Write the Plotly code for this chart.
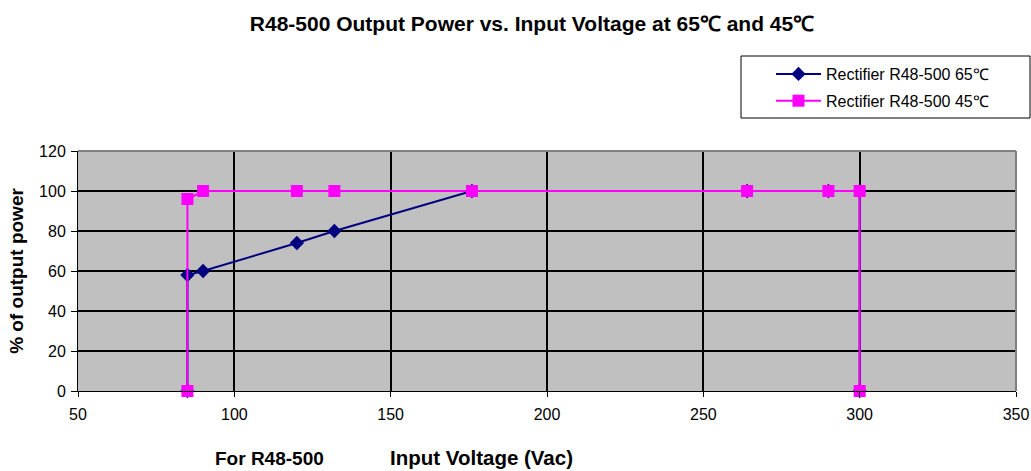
import plotly.graph_objects as go

# Data
v65 = [85, 85, 90, 120, 132, 176, 264, 290, 300, 300]
p65 = [0, 58, 60, 74, 80, 100, 100, 100, 100, 0]
v45 = [85, 85, 90, 120, 132, 176, 264, 290, 300, 300]
p45 = [0, 96, 100, 100, 100, 100, 100, 100, 100, 0]
name65 = "Rectifier R48-500 65℃"
name45 = "Rectifier R48-500 45℃"
title = "R48-500 Output Power vs. Input Voltage at 65℃ and 45℃"
x_title = "Input Voltage (Vac)"
note = "For R48-500"
y_title = "% of output power"
x_ticks = [50, 100, 150, 200, 250, 300, 350]
y_ticks = [0, 20, 40, 60, 80, 100, 120]

font = "Liberation Sans, Arial, sans-serif"

# plot area in pixels
L, R, T, B = 78, 1016, 151, 391
W, H = R - L, B - T


def px(x):
    return (x - L) / W


def py(y):
    return (B - y) / H


fig = go.Figure()
fig.add_trace(go.Scatter(
    x=v65, y=p65, name=name65, mode="lines+markers", legendgroup="a",
    line=dict(color="#000080", width=2), cliponaxis=False,
    marker=dict(symbol="diamond", size=11, color="#000080"),
))
fig.add_trace(go.Scatter(
    x=v45, y=p45, name=name45, mode="lines+markers", legendgroup="b",
    line=dict(color="#FF00FF", width=2), cliponaxis=False,
    marker=dict(symbol="square", size=12, color="#FF00FF"),
))

fig.update_layout(
    width=1031, height=471,
    margin=dict(l=L, r=1031 - R, t=T, b=471 - B),
    paper_bgcolor="white", plot_bgcolor="#C0C0C0",
    font=dict(family=font, size=16, color="black"),
    title=dict(text="<b>" + title + "</b>", x=532 / 1031, xanchor="center",
               xref="container", y=1 - 24 / 471, yanchor="middle",
               font=dict(size=21)),
    legend=dict(x=px(771), y=py(57), xanchor="left", yanchor="top",
                borderwidth=0, bgcolor="rgba(0,0,0,0)",
                font=dict(size=16), itemwidth=45, tracegroupgap=3,
                traceorder="grouped"),
    showlegend=True,
)
fig.update_xaxes(
    range=[50, 350], tickvals=x_ticks, ticks="outside", ticklen=5,
    tickcolor="black", showgrid=True, gridcolor="black", gridwidth=2,
    showline=True, linecolor="black", linewidth=1,
    zeroline=False, automargin=False, ticklabelstandoff=4,
)
fig.update_yaxes(
    range=[0, 120], tickvals=y_ticks, ticks="outside", ticklen=6,
    tickcolor="black", showgrid=True, gridcolor="black", gridwidth=2,
    showline=True, linecolor="black", linewidth=1,
    zeroline=False, automargin=False, ticklabelstandoff=2,
    title=dict(text="<b>" + y_title + "</b>", font=dict(size=19), standoff=10),
)
# gray border on top/right of plot area
fig.add_shape(type="line", xref="paper", yref="paper", x0=0, x1=1, y0=1, y1=1,
              line=dict(color="#808080", width=2))
fig.add_shape(type="line", xref="paper", yref="paper", x0=1, x1=1, y0=0, y1=1,
              line=dict(color="#808080", width=2))
# legend frame
fig.add_shape(type="rect", xref="paper", yref="paper",
              x0=px(741), x1=px(1030), y0=py(118), y1=py(56),
              line=dict(color="black", width=1), fillcolor="rgba(0,0,0,0)")

fig.add_annotation(text="<b>" + note + "</b>", xref="paper", yref="paper",
                   x=px(269), y=py(471), xanchor="center", yanchor="bottom",
                   showarrow=False, font=dict(size=19))
fig.add_annotation(text="<b>" + x_title + "</b>", xref="paper", yref="paper",
                   x=px(481), y=py(471), xanchor="center", yanchor="bottom",
                   showarrow=False, font=dict(size=20.5))

fig.write_html("out.html", config={"displayModeBar": False},
               post_script="document.body.style.margin='0';")
